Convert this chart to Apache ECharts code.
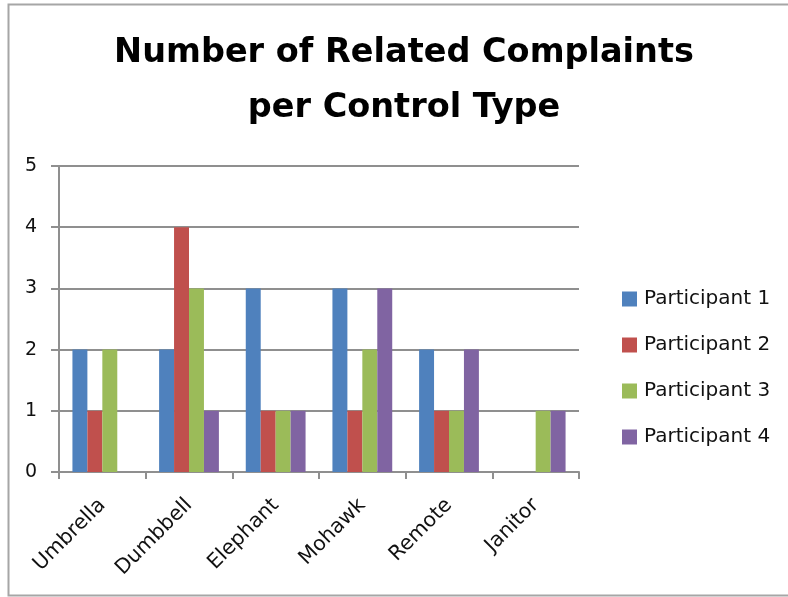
<!DOCTYPE html>
<html>
<head>
<meta charset="utf-8">
<script src="https://cdn.jsdelivr.net/npm/echarts@6/dist/echarts.min.js"></script>
<style>
  html, body { margin: 0; padding: 0; background: #fff; }
  #chart { width: 788px; height: 597px; }
</style>
</head>
<body>
<div id="chart"></div>
<script>
// Control types along the x axis
const categories = ['Umbrella', 'Dumbbell', 'Elephant', 'Mohawk', 'Remote', 'Janitor'];

// Complaint counts per participant, one value per control type
const participant1 = [2, 2, 3, 3, 2, 0];
const participant2 = [1, 4, 1, 1, 1, 0];
const participant3 = [2, 3, 1, 2, 1, 1];
const participant4 = [0, 1, 1, 3, 2, 1];

const seriesNames = ['Participant 1', 'Participant 2', 'Participant 3', 'Participant 4'];
const seriesValues = [participant1, participant2, participant3, participant4];
const seriesColors = ['#4F81BD', '#C0504D', '#9BBB59', '#8064A2'];

const titleFont = '"DejaVu Sans", "Open Sans", sans-serif';
const labelFont = '"DejaVu Sans", "Liberation Sans", sans-serif';
const gridColor = '#8f8f8f';

const chart = echarts.init(document.getElementById('chart'), null, { renderer: 'canvas' });

chart.setOption({
  animation: false,
  backgroundColor: '#ffffff',
  graphic: [{
    type: 'rect',
    shape: { x: 8.5, y: 4.5, width: 800, height: 591 },
    style: { fill: 'none', stroke: '#a6a6a6', lineWidth: 2 },
    silent: true
  }],
  title: {
    text: 'Number of Related Complaints\nper Control Type',
    left: 404,
    textAlign: 'center',
    top: 26,
    padding: 0,
    textStyle: {
      fontFamily: titleFont,
      fontWeight: 'bold',
      fontSize: 33.5,
      lineHeight: 55,
      color: '#000'
    }
  },
  legend: {
    orient: 'vertical',
    left: 622,
    top: 289,
    padding: 0,
    itemWidth: 15,
    itemHeight: 15,
    itemGap: 26,
    icon: 'rect',
    textStyle: { fontFamily: labelFont, fontSize: 20, lineHeight: 20, color: '#111', padding: [0, 0, 0, 2] },
    data: seriesNames
  },
  grid: {
    left: 59,
    right: 209,
    top: 166,
    bottom: 125,
    containLabel: false
  },
  xAxis: {
    type: 'category',
    data: categories,
    axisLine: { lineStyle: { color: gridColor, width: 2 } },
    axisTick: { show: true, length: 7, lineStyle: { color: gridColor, width: 2 } },
    axisLabel: {
      rotate: 45,
      margin: 30,
      fontFamily: labelFont,
      fontSize: 20.5,
      color: '#111'
    }
  },
  yAxis: {
    type: 'value',
    min: 0,
    max: 5,
    interval: 1,
    axisLine: { show: true, lineStyle: { color: gridColor, width: 2 } },
    axisTick: { show: true, length: 8, lineStyle: { color: gridColor, width: 2 } },
    splitLine: { lineStyle: { color: gridColor, width: 2 } },
    axisLabel: {
      margin: 22,
      fontFamily: labelFont,
      fontSize: 19,
      color: '#111'
    }
  },
  series: seriesNames.map((name, i) => ({
    name: name,
    type: 'bar',
    data: seriesValues[i],
    barGap: '0%',
    barCategoryGap: '31%',
    itemStyle: { color: seriesColors[i] }
  }))
});
</script>
</body>
</html>
